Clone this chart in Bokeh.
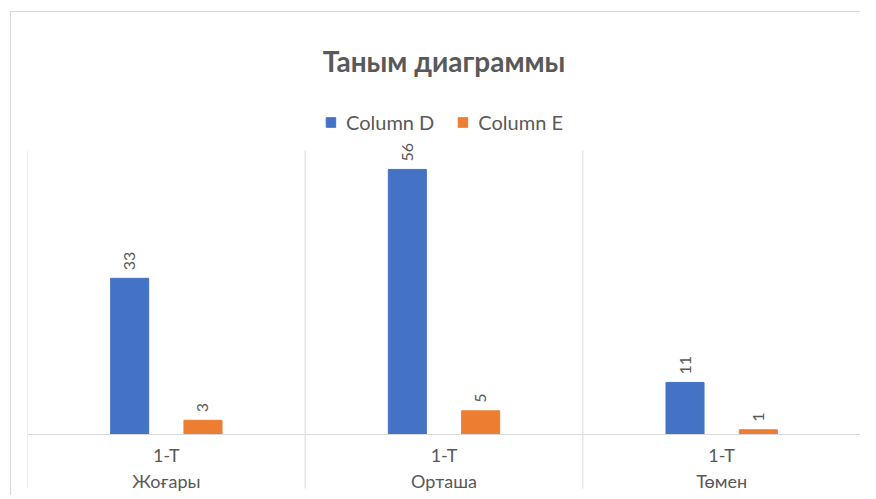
import math
from bokeh.plotting import figure
from bokeh.models import ColumnDataSource, Legend, LegendItem, Span
from bokeh.core.properties import value
from bokeh.embed import file_html
from bokeh.resources import INLINE

# ---- data ----
groups = ["Жоғары", "Орташа", "Төмен"]
sub_labels = ["1-T", "1-T", "1-T"]
column_d = [33, 56, 11]
column_e = [3, 5, 1]
series_names = ["Column D", "Column E"]
Y_MAX = 60

FONT = "Lato"
TXT = "#595959"
GRID = "#d9d9d9"
BLUE = "#4472C4"
ORANGE = "#ED7D31"

n = len(groups)
centers = [i + 0.5 for i in range(n)]
off = 0.132
bw = 0.137

src_d = ColumnDataSource(dict(x=[c - off for c in centers], top=column_d,
                              lab=[str(v) for v in column_d]))
src_e = ColumnDataSource(dict(x=[c + off for c in centers], top=column_e,
                              lab=[str(v) for v in column_e]))
src_cat = ColumnDataSource(dict(x=centers, y=[0] * n, sub=sub_labels, grp=groups))
bounds = list(range(n + 1))

# frame geometry (px): top 100, value-axis max at 152, baseline 436, bottom 497
px_per_unit = (436 - 152) / Y_MAX
y_top = Y_MAX + (152 - 100) / px_per_unit
y_bot = -(497 - 436) / px_per_unit
sep_bot = -(490 - 436) / px_per_unit

p = figure(width=850, height=484, output_backend="svg", toolbar_location=None,
           x_range=(0, n), y_range=(y_bot, y_top),
           x_axis_type=None, y_axis_type=None,
           min_border_left=16, min_border_right=1, min_border_bottom=1,
           min_border_top=86)
p.outline_line_color = None
p.grid.visible = False

p.title.text = "Таным диаграммы"
p.title.text_font = FONT
p.title.text_font_size = "28px"
p.title.text_font_style = "bold"
p.title.text_color = TXT
p.title.align = "center"
p.title.standoff = 42

# separators
p.segment(x0=bounds, x1=bounds, y0=[sep_bot] * (n + 1), y1=[Y_MAX] * (n + 1),
          line_color=GRID, line_width=1)
p.add_layout(Span(location=0, dimension="width", line_color=GRID, line_width=1))

rd = p.vbar(x="x", top="top", width=bw, source=src_d, color=BLUE)
re = p.vbar(x="x", top="top", width=bw, source=src_e, color=ORANGE)

for s in (src_d, src_e):
    p.text(x="x", y="top", text="lab", source=s, angle=math.pi / 2,
           text_align="left", text_baseline="middle", y_offset=-8,
           text_font=value(FONT), text_font_size="16px", text_color=TXT)

p.text(x="x", y="y", text="sub", source=src_cat, y_offset=20,
       text_align="center", text_baseline="middle",
       text_font=value(FONT), text_font_size="18px", text_color=TXT)
p.text(x="x", y="y", text="grp", source=src_cat, y_offset=46,
       text_align="center", text_baseline="middle",
       text_font=value(FONT), text_font_size="18px", text_color=TXT)

legend = Legend(items=[LegendItem(label=series_names[0], renderers=[rd]),
                       LegendItem(label=series_names[1], renderers=[re])],
                location="top_center", orientation="horizontal",
                label_text_font=FONT, label_text_font_size="20px",
                label_text_color=TXT, glyph_width=12, glyph_height=12,
                label_standoff=10, spacing=22, border_line_color=None,
                background_fill_alpha=0, margin=12, padding=0)
p.add_layout(legend)

p.styles = {"border-left": "1px solid #d9d9d9", "border-top": "1px solid #d9d9d9",
            "margin-left": "10px", "margin-top": "11px"}

open("out.html", "w").write(file_html(p, INLINE))
